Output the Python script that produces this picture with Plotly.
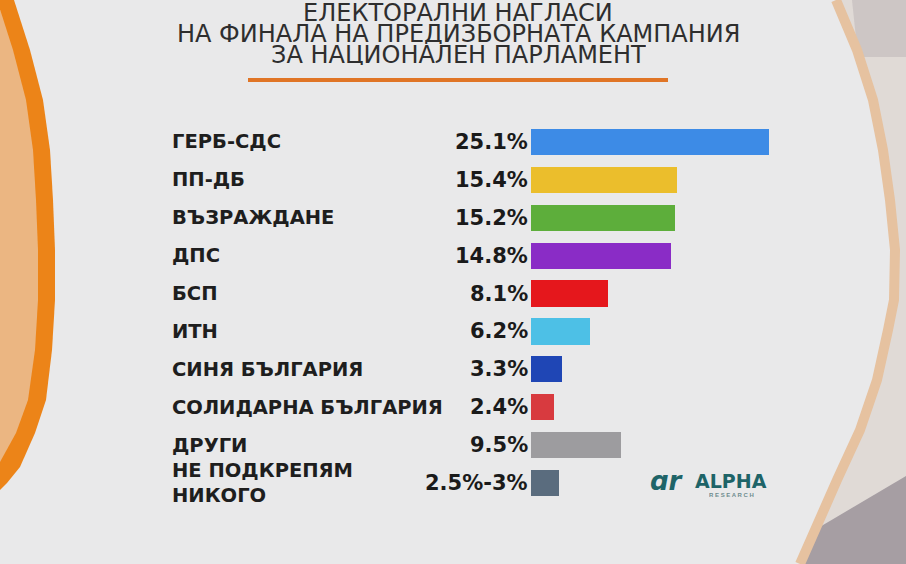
import plotly.graph_objects as go

W, H = 906, 564

categories = ["ГЕРБ-СДС", "ПП-ДБ", "ВЪЗРАЖДАНЕ", "ДПС", "БСП", "ИТН",
              "СИНЯ БЪЛГАРИЯ", "СОЛИДАРНА БЪЛГАРИЯ", "ДРУГИ",
              "НЕ ПОДКРЕПЯМ<br>НИКОГО"]
values = [25.1, 15.4, 15.2, 14.8, 8.1, 6.2, 3.3, 2.4, 9.5, 3.0]
value_labels = ["25.1%", "15.4%", "15.2%", "14.8%", "8.1%", "6.2%",
                "3.3%", "2.4%", "9.5%", "2.5%-3%"]
colors = ["#3D8BE6", "#EBBE2C", "#5DAE3B", "#8A2CC6", "#E5171C", "#4DC0E6",
          "#1F46B5", "#D83A3F", "#9D9C9F", "#5A6C7E"]
title_lines = ["ЕЛЕКТОРАЛНИ НАГЛАСИ",
               "НА ФИНАЛА НА ПРЕДИЗБОРНАТА КАМПАНИЯ",
               "ЗА НАЦИОНАЛЕН ПАРЛАМЕНТ"]


def px(x):
    return x / W


def py(y):
    return 1 - y / H


def path_from(points, close=True):
    s = "M " + " L ".join(f"{px(x):.5f},{py(y):.5f}" for x, y in points)
    return s + (" Z" if close else "")


idx = list(range(len(categories)))

fig = go.Figure()
fig.add_trace(go.Bar(
    x=values, y=idx, orientation="h", width=0.69,
    marker=dict(color=colors, line=dict(width=0)),
    hoverinfo="skip", showlegend=False,
))

shapes = []
# right decorative area
right_ring = [(836, 0), (857, 50), (873, 100), (883, 150), (890, 200), (895, 250),
              (894, 300), (888, 330), (877, 380), (860, 430), (837, 480),
              (815, 530), (800, 564)]
outside = right_ring + [(906, 564), (906, 0)]
shapes.append(dict(type="path", xref="paper", yref="paper", layer="below",
                   path=path_from(outside), fillcolor="#E0DAD6", line=dict(width=0)))
shapes.append(dict(type="path", xref="paper", yref="paper", layer="below",
                   path=path_from([(906, 476), (818, 528), (800, 564), (906, 564)]),
                   fillcolor="#A69EA3", line=dict(width=0)))
shapes.append(dict(type="path", xref="paper", yref="paper", layer="below",
                   path=path_from([(852, 0), (906, 0), (906, 57), (858, 57)]),
                   fillcolor="rgba(170,160,165,0.35)", line=dict(width=0)))
shapes.append(dict(type="path", xref="paper", yref="paper", layer="below",
                   path=path_from(right_ring, close=False),
                   fillcolor="rgba(0,0,0,0)", line=dict(color="#E6C2A0", width=10)))

# left orange arc
outer_left = [(14, 0), (30, 50), (43, 100), (50, 150), (53, 200), (55, 250),
              (55, 300), (52, 350), (46, 400), (35, 433), (20, 467), (7, 483), (0, 490)]
inner_left = [(-3, 0), (13, 50), (26, 100), (33, 150), (36, 200), (38, 250),
              (38, 300), (35, 350), (28, 400), (16, 433), (0, 462)]
shapes.append(dict(type="path", xref="paper", yref="paper", layer="below",
                   path=path_from(outer_left + [(-5, 490), (-5, 0)]),
                   fillcolor="#EC8418", line=dict(width=0)))
shapes.append(dict(type="path", xref="paper", yref="paper", layer="below",
                   path=path_from(inner_left + [(-5, 462), (-5, 0)]),
                   fillcolor="#EBB682", line=dict(width=0)))

# title underline
shapes.append(dict(type="line", xref="paper", yref="paper", layer="below",
                   x0=px(248), x1=px(668), y0=py(80), y1=py(80),
                   line=dict(color="#E07526", width=4)))

annotations = []
title_y = [13, 34, 55]
for t, yy in zip(title_lines, title_y):
    annotations.append(dict(text=t, xref="paper", yref="paper", x=px(458), y=py(yy),
                            xanchor="center", yanchor="middle", showarrow=False,
                            height=20, valign="middle", borderpad=0,
                            font=dict(family="DejaVu Sans, sans-serif",
                                      size=24, color="#2E2E2E")))

for i, (c, v) in enumerate(zip(categories, value_labels)):
    annotations.append(dict(text=f"<b>{c}</b>", xref="paper", yref="y", x=px(170), y=i,
                            xanchor="left", yanchor="middle", align="left",
                            showarrow=False,
                            font=dict(family="DejaVu Sans, sans-serif", size=19.5,
                                      color="#1E1E1E")))
    annotations.append(dict(text=f"<b>{v}</b>", xref="x", yref="y", x=0, y=i,
                            xanchor="right", yanchor="middle", xshift=-1,
                            showarrow=False,
                            font=dict(family="DejaVu Sans, sans-serif", size=21,
                                      color="#1A1A1A")))

# logo
annotations.append(dict(text="<b><i>ɑr</i></b>", xref="paper", yref="paper",
                        x=px(667), y=py(481), xanchor="center", yanchor="middle",
                        showarrow=False,
                        font=dict(family="DejaVu Sans, sans-serif", size=26, color="#1E6468")))
annotations.append(dict(text="<b>ALPHA</b>", xref="paper", yref="paper",
                        x=px(731), y=py(481), xanchor="center", yanchor="middle",
                        showarrow=False,
                        font=dict(family="DejaVu Sans, sans-serif", size=19,
                                  color="#1E6468")))
annotations.append(dict(text="<b>R E S E A R C H</b>", xref="paper", yref="paper",
                        x=px(731), y=py(495), xanchor="center", yanchor="middle",
                        showarrow=False, height=8,
                        font=dict(family="Liberation Sans, Arial, sans-serif", size=6,
                                  color="#6E8C8E")))

fig.update_layout(
    width=W, height=H,
    margin=dict(l=0, r=0, t=0, b=0),
    paper_bgcolor="#E9E9EA", plot_bgcolor="rgba(0,0,0,0)",
    xaxis=dict(range=[0, 39.56], domain=[531 / W, 1], visible=False, fixedrange=True),
    yaxis=dict(range=[9.5, -0.5], domain=[py(502), py(123)], visible=False, fixedrange=True),
    shapes=shapes, annotations=annotations, bargap=0,
)

fig.write_html("out.html")
